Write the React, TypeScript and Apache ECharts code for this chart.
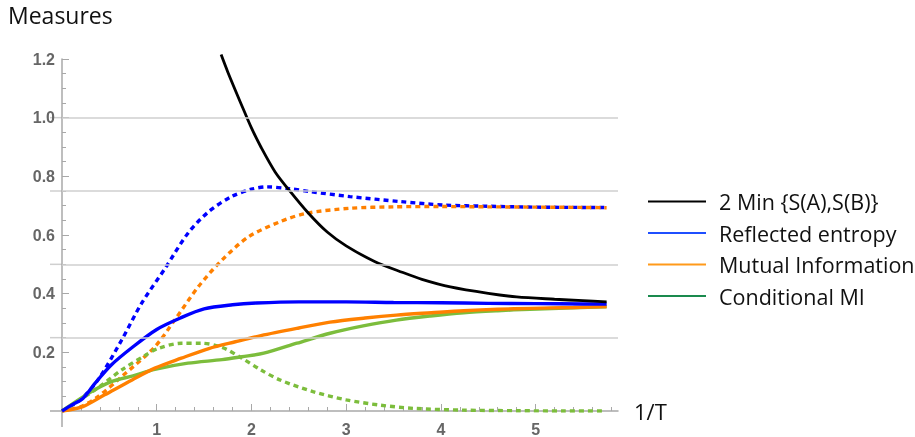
import React, { useEffect, useRef } from "react";
import * as echarts from "echarts";

// ---- data ----
const minS_x = [1.68, 1.75, 1.9, 2.0, 2.1, 2.25, 2.4, 2.6, 2.8, 3.0, 3.3, 3.6, 3.8, 4.1, 4.5, 4.8, 5.2, 5.5, 5.75];
const minS_y = [1.215, 1.156, 1.04, 0.965, 0.9, 0.815, 0.752, 0.675, 0.61, 0.563, 0.51, 0.472, 0.449, 0.423, 0.401, 0.389, 0.381, 0.376, 0.372];

const re_x = [0, 0.1, 0.22, 0.35, 0.52, 0.75, 1.0, 1.25, 1.5, 1.8, 2.05, 2.5, 3.0, 3.5, 4.0, 4.5, 5.0, 5.5, 5.75];
const re_y = [0, 0.02, 0.043, 0.095, 0.157, 0.219, 0.278, 0.317, 0.348, 0.362, 0.368, 0.372, 0.372, 0.37, 0.369, 0.367, 0.366, 0.365, 0.365];

const reDot_x = [0, 0.2, 0.38, 0.63, 0.84, 1.09, 1.33, 1.55, 1.79, 2.0, 2.16, 2.4, 2.62, 3.04, 3.57, 4.04, 4.5, 5.0, 5.5, 5.75];
const reDot_y = [0, 0.04, 0.106, 0.242, 0.367, 0.487, 0.606, 0.68, 0.731, 0.756, 0.764, 0.758, 0.748, 0.731, 0.714, 0.702, 0.698, 0.695, 0.694, 0.694];

const mi_x = [0, 0.22, 0.45, 0.74, 0.98, 1.26, 1.55, 1.83, 2.1, 2.5, 2.83, 3.2, 3.53, 3.9, 4.24, 4.6, 4.94, 5.4, 5.75];
const mi_y = [0, 0.015, 0.055, 0.106, 0.146, 0.18, 0.213, 0.236, 0.257, 0.283, 0.303, 0.317, 0.327, 0.335, 0.342, 0.347, 0.35, 0.353, 0.356];

const miDot_x = [0, 0.2, 0.38, 0.63, 0.98, 1.19, 1.44, 1.69, 1.97, 2.3, 2.58, 3.04, 3.5, 4.0, 4.5, 5.0, 5.5, 5.75];
const miDot_y = [0, 0.015, 0.049, 0.117, 0.219, 0.31, 0.424, 0.515, 0.594, 0.645, 0.674, 0.691, 0.696, 0.697, 0.696, 0.695, 0.694, 0.693];

const cmi_x = [0, 0.28, 0.52, 0.75, 0.98, 1.33, 1.69, 1.9, 2.13, 2.48, 2.83, 3.18, 3.53, 3.89, 4.24, 4.6, 4.94, 5.4, 5.75];
const cmi_y = [0, 0.06, 0.1, 0.12, 0.142, 0.163, 0.175, 0.185, 0.197, 0.231, 0.265, 0.29, 0.31, 0.324, 0.335, 0.342, 0.347, 0.352, 0.355];

const cmiDot_x = [0, 0.35, 0.63, 0.88, 1.02, 1.26, 1.47, 1.69, 1.9, 2.1, 2.3, 2.65, 3.0, 3.36, 3.71, 4.24, 4.8, 5.3, 5.7];
const cmiDot_y = [0, 0.072, 0.14, 0.19, 0.214, 0.231, 0.231, 0.217, 0.18, 0.14, 0.106, 0.066, 0.038, 0.02, 0.009, 0.003, 0.001, 0, 0];

const legendNames = ["2 Min {S(A),S(B)}", "Reflected entropy", "Mutual Information", "Conditional MI"];
const legendColors = ["#000000", "#1f4fff", "#ff9a1a", "#1a8a4e"];

const xMajor = [1, 2, 3, 4, 5];
const xMinor = [0.2, 0.4, 0.6, 0.8, 1.2, 1.4, 1.6, 1.8, 2.2, 2.4, 2.6, 2.8, 3.2, 3.4, 3.6, 3.8, 4.2, 4.4, 4.6, 4.8, 5.2, 5.4, 5.6, 5.8];
const gridLevels = [0.25, 0.5, 0.75, 1.0];

const X_MAX = 5.87;
const Y_MAX = 1.2;

const zip = (xs: number[], ys: number[]) => xs.map((x, i) => [x, ys[i]]);

export default function App() {
  const ref = useRef<HTMLDivElement>(null);
  useEffect(() => {
    if (!ref.current) return;
    const chart = echarts.init(ref.current, null, { renderer: "svg" });
    const blue = "#0000ff";
    const orange = "#ff8000";
    const green = "#7cbd3c";
    const dash = [5, 4];
    const mk = (name: string, xs: number[], ys: number[], color: string, width: number, dotted: boolean, extra: any = {}) => ({
      type: "line",
      name,
      data: zip(xs, ys),
      symbol: "none",
      smooth: 0.3,
      lineStyle: { color, width, type: dotted ? dash : "solid", cap: "butt" },
      itemStyle: { color },
      z: 3,
      ...extra,
    });
    const axisGray = "#a8a8a8";
    const font = "Open Sans";
    chart.setOption({
      animation: false,
      grid: { left: 62, right: 915 - 618, top: 59, bottom: 26, containLabel: false },
      xAxis: [
        {
          type: "value",
          min: 0,
          max: X_MAX,
          axisLine: { show: true, onZero: true, lineStyle: { color: axisGray, width: 1.5 } },
          axisTick: { show: true, inside: true, length: 4, customValues: xMinor, lineStyle: { color: axisGray, width: 1 } },
          axisLabel: { show: false },
          splitLine: { show: false },
        },
        {
          type: "value",
          position: "bottom",
          min: 0,
          max: X_MAX,
          axisLine: { show: false },
          axisTick: { show: true, inside: true, length: 7, customValues: xMajor, lineStyle: { color: axisGray, width: 1 } },
          axisLabel: {
            show: true,
            customValues: xMajor,
            margin: 10,
            color: "#666",
            fontWeight: "bold",
            fontSize: 16,
            fontFamily: "Liberation Sans",
          },
          splitLine: { show: false },
        },
      ],
      yAxis: {
        type: "value",
        min: 0,
        max: Y_MAX,
        interval: 0.2,
        axisLine: { show: true, onZero: true, lineStyle: { color: axisGray, width: 1.5 } },
        axisTick: { show: true, inside: true, length: 7, lineStyle: { color: axisGray, width: 1 } },
        minorTick: { show: true, splitNumber: 4, length: 4, lineStyle: { color: axisGray, width: 1 } },
        axisLabel: {
          margin: 7,
          color: "#666",
          fontWeight: "bold",
          fontSize: 16,
          fontFamily: "Liberation Sans",
          formatter: (v: number) => (v === 0 ? "" : v.toFixed(1)),
        },
        splitLine: { show: false },
      },
      legend: {
        orient: "vertical",
        left: 643,
        top: 184,
        itemWidth: 58,
        itemHeight: 2.2,
        itemGap: 6.5,
        selectedMode: false,
        textStyle: { fontFamily: font, fontSize: 21.5, color: "#111", padding: [0, 0, 0, 8], lineHeight: 25 },
        data: legendNames.map((n, i) => ({
          name: n,
          icon: "path://M0,0 L58,0 L58,2.2 L0,2.2 Z",
          itemStyle: { color: legendColors[i], borderWidth: 0 },
        })),
      },
      series: [
        {
          type: "line",
          name: "grid",
          data: [],
          silent: true,
          z: 1,
          markLine: {
            silent: true,
            symbol: "none",
            label: { show: false },
            lineStyle: { color: "#cfcfcf", width: 1.5, type: "solid" },
            data: gridLevels.map((v) => ({ yAxis: v })),
          },
        },
        mk("Reflected entropy dotted", reDot_x, reDot_y, blue, 3.4, true),
        mk("Mutual Information dotted", miDot_x, miDot_y, orange, 3.4, true),
        mk("Conditional MI dotted", cmiDot_x, cmiDot_y, green, 3.4, true),
        mk(legendNames[3], cmi_x, cmi_y, green, 3.4, false),
        mk(legendNames[2], mi_x, mi_y, orange, 3.4, false),
        mk(legendNames[1], re_x, re_y, blue, 3.4, false),
        mk(legendNames[0], minS_x, minS_y, "#000000", 2.8, false, { clip: false, z: 4 }),
      ],
    });

    // decorations: axis/gridline extensions beyond the plot box, titles
    const o = chart.convertToPixel({ gridIndex: 0 }, [0, 0]) as number[];
    const ext: any[] = [
      { type: "line", shape: { x1: o[0] - 12, y1: o[1], x2: o[0], y2: o[1] }, style: { stroke: axisGray, lineWidth: 1.5 }, z: 0 },
      { type: "line", shape: { x1: o[0], y1: o[1], x2: o[0], y2: o[1] + 16 }, style: { stroke: axisGray, lineWidth: 1.5 }, z: 0 },
    ];
    gridLevels.forEach((v) => {
      const p = chart.convertToPixel({ gridIndex: 0 }, [0, v]) as number[];
      ext.push({ type: "line", shape: { x1: p[0] - 12, y1: p[1], x2: p[0], y2: p[1] }, style: { stroke: "#cfcfcf", lineWidth: 1.5 }, z: 0 });
    });
    ext.push({
      type: "text",
      left: 8,
      top: 3,
      style: { text: "Measures", fontFamily: font, fontSize: 23, fill: "#111" },
    });
    ext.push({
      type: "text",
      x: 634,
      y: o[1],
      style: { text: "1/T", fontFamily: font, fontSize: 22, fill: "#111", verticalAlign: "middle" },
    });
    chart.setOption({ graphic: ext });

    return () => chart.dispose();
  }, []);
  return <div ref={ref} style={{ position: "fixed", left: 0, top: 0, width: 915, height: 437 }} />;
}
